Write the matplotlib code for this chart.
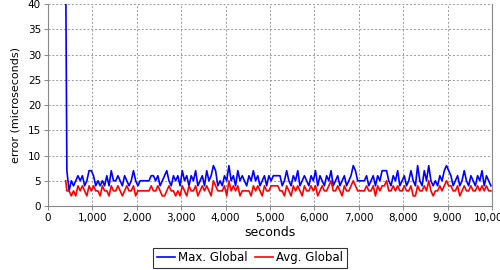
import matplotlib
matplotlib.use("Agg")
import matplotlib.pyplot as plt
from matplotlib.ticker import FuncFormatter, MultipleLocator
import numpy as np

spike_sec = 400
start_sec = 425
step_sec = 50

max_global = [45,
    7,3,5,4,5,6,5,6,4,5,
    7,7,6,4,5,4,5,4,6,4,
    7,5,5,6,5,4,6,5,4,5,
    7,5,4,5,5,5,5,5,6,6,
    5,6,4,5,6,7,5,4,6,5,
    6,4,7,5,6,4,6,5,7,4,
    5,6,4,7,5,6,8,7,4,5,
    4,6,5,8,5,6,4,7,5,6,
    5,4,6,5,7,5,6,4,5,6,
    4,6,5,6,6,6,6,4,5,7,
    5,4,6,5,7,4,5,6,5,4,
    6,5,7,4,6,5,4,6,5,7,
    4,5,6,4,5,6,4,5,6,8,
    7,5,5,5,5,6,4,5,6,4,
    6,5,7,7,7,5,4,6,5,7,
    4,5,6,4,5,7,5,4,8,5,
    4,7,5,8,5,4,5,4,6,5,
    7,8,7,6,4,5,6,4,5,7,
    5,4,6,5,4,6,5,7,4,6,
    5,4]

avg_global = [5,
    3,3,2,3,2,4,3,4,3,2,
    4,3,4,3,3,2,4,3,3,2,
    4,3,3,4,3,2,3,4,3,3,
    4,2,3,3,3,3,3,3,4,3,
    3,4,3,2,2,3,4,3,3,2,
    3,2,4,3,2,4,3,3,4,2,
    3,4,3,4,3,2,5,4,3,3,
    3,4,2,5,3,4,3,4,2,3,
    3,3,3,2,4,3,4,3,2,4,
    3,3,4,4,4,4,3,3,2,4,
    3,2,4,3,4,3,2,4,3,3,
    4,3,4,2,3,4,3,3,4,5,
    3,3,4,3,2,4,3,3,4,5,
    4,3,3,3,3,4,3,3,4,2,
    4,3,4,4,5,3,3,4,3,4,
    3,3,4,3,3,4,2,2,4,3,
    3,4,3,5,3,2,3,3,4,3,
    4,5,4,4,3,3,4,2,3,4,
    3,3,4,3,3,4,3,4,3,4,
    3,3]

seconds = np.concatenate([[spike_sec],
                          start_sec + step_sec * np.arange(len(max_global) - 1)])

fig = plt.figure(figsize=(5, 2.7), dpi=100)
ax = fig.add_axes([0.096, 0.237, 0.888, 0.748])

ax.plot(seconds, max_global, color="#0000ff", lw=1.2, label="Max. Global")
ax.plot(seconds, avg_global, color="#ff0000", lw=1.2, label="Avg. Global")

ax.set_xlim(0, 10000)
ax.set_ylim(0, 40)
ax.xaxis.set_major_locator(MultipleLocator(1000))
ax.yaxis.set_major_locator(MultipleLocator(5))
ax.xaxis.set_major_formatter(FuncFormatter(lambda v, p: f"{int(v):,}"))
ax.grid(True, color="#999999", linestyle=(0, (2, 2)), linewidth=0.7)
ax.set_axisbelow(True)
for s in ["left", "bottom", "right"]:
    ax.spines[s].set_color("#888888")
    ax.spines[s].set_linewidth(0.8)
ax.spines["top"].set_visible(False)
ax.tick_params(axis="both", labelsize=7.5, colors="#888888", labelcolor="black",
               length=3, width=0.7, pad=2)
ax.set_xlabel("seconds", fontsize=9, labelpad=2)
ax.set_ylabel("error (microseconds)", fontsize=8, labelpad=5)

leg = fig.legend(loc="center", bbox_to_anchor=(0.5, 0.045), ncol=2, fontsize=8.5,
                 frameon=True, fancybox=False, edgecolor="black", handlelength=1.5,
                 handletextpad=0.3, columnspacing=0.6, borderpad=0.3, borderaxespad=0)
leg.get_frame().set_linewidth(0.8)

fig.savefig("out.png", dpi=100)
